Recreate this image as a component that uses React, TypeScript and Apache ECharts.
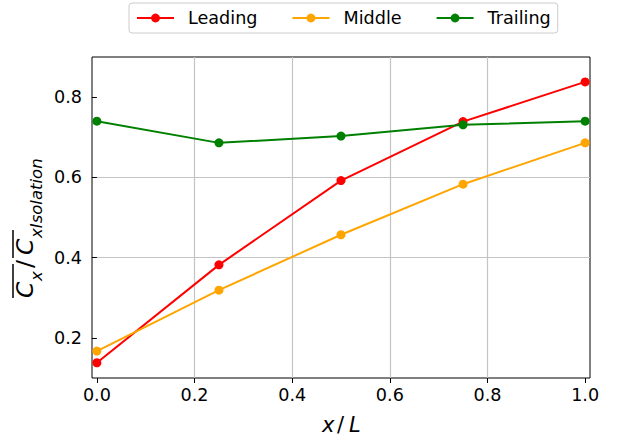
import React, { useEffect, useRef } from "react";
import * as echarts from "echarts";

const seriesNames = ["Leading", "Middle", "Trailing"];
const seriesColors = ["#ff0000", "#ffa500", "#008000"];
const xValues = [0, 0.25, 0.5, 0.75, 1.0];
const leading = [0.138, 0.382, 0.592, 0.739, 0.838];
const middle = [0.167, 0.319, 0.457, 0.583, 0.686];
const trailing = [0.74, 0.686, 0.703, 0.731, 0.74];
const xTicks = [0, 0.2, 0.4, 0.6, 0.8, 1.0];
const yTicks = [0.2, 0.4, 0.6, 0.8];

const FONT = "DejaVu Sans";

export default function App() {
  const ref = useRef<HTMLDivElement>(null);
  useEffect(() => {
    if (!ref.current) return;
    const chart = echarts.init(ref.current, null, { renderer: "svg" });
    const values = [leading, middle, trailing];
    const series = values.map((vals, i) => ({
      name: seriesNames[i],
      type: "line",
      data: xValues.map((x, j) => [x, vals[j]]),
      symbol: "circle",
      symbolSize: 9,
      showSymbol: true,
      color: seriesColors[i],
      itemStyle: { color: seriesColors[i] },
      lineStyle: { color: seriesColors[i], width: 2 },
      emphasis: { disabled: true },
    }));
    const mainFont = (style: string, size: number) => `${style} ${size}px "${FONT}"`;
    chart.setOption({
      animation: false,
      backgroundColor: "#ffffff",
      textStyle: { fontFamily: FONT },
      legend: {
        data: seriesNames,
        left: 129,
        top: 3,
        padding: [6, 7, 6, 7],
        itemGap: 34,
        itemWidth: 37,
        itemHeight: 11,
        borderColor: "#cccccc",
        borderWidth: 1,
        borderRadius: 3,
        textStyle: { fontSize: 17.6, color: "#000", fontFamily: FONT, padding: [0, 0, 0, 9] },
      },
      grid: {
        left: 92,
        right: 40,
        top: 57,
        bottom: 64,
        show: true,
        borderColor: "#000",
        borderWidth: 1,
        backgroundColor: "transparent",
      },
      xAxis: {
        type: "value",
        min: -0.01,
        max: 1.01,
        axisLine: { show: false },
        axisTick: { show: true, length: 5, lineStyle: { color: "#000", width: 1 }, customValues: xTicks },
        axisLabel: {
          customValues: xTicks,
          formatter: (v: number) => v.toFixed(1),
          fontSize: 17.6,
          color: "#000",
          fontFamily: FONT,
          margin: 8,
        },
        splitLine: { show: true, showMinLine: false, showMaxLine: false, lineStyle: { color: "#c4c4c4", width: 1.2 } },
      },
      yAxis: {
        type: "value",
        min: 0.1,
        max: 0.9,
        axisLine: { show: false },
        axisTick: { show: true, length: 5, lineStyle: { color: "#000", width: 1 }, customValues: yTicks },
        axisLabel: {
          customValues: yTicks,
          formatter: (v: number) => v.toFixed(1),
          fontSize: 17.6,
          color: "#000",
          fontFamily: FONT,
          margin: 10,
        },
        splitLine: { show: true, showMinLine: false, showMaxLine: false, lineStyle: { color: "#c4c4c4", width: 1.2 } },
      },
      graphic: [
        {
          type: "group",
          x: 33,
          y: 298,
          rotation: Math.PI / 2,
          children: [
            { type: "text", x: 0, y: -8.1, style: { text: "C", font: mainFont("italic", 23.5), fill: "#000", align: "left", verticalAlign: "middle" } },
            { type: "text", x: 17, y: 3.3, style: { text: "x", font: mainFont("italic", 16.5), fill: "#000", align: "left", verticalAlign: "middle" } },
            { type: "text", x: 30, y: -8.1, style: { text: "/", font: mainFont("normal", 23.5), fill: "#000", align: "left", verticalAlign: "middle" } },
            { type: "text", x: 43, y: -8.1, style: { text: "C", font: mainFont("italic", 23.5), fill: "#000", align: "left", verticalAlign: "middle" } },
            { type: "text", x: 60, y: 3.3, style: { text: "xIsolation", font: mainFont("italic", 16.5), fill: "#000", align: "left", verticalAlign: "middle" } },
            { type: "line", shape: { x1: 0, y1: -20, x2: 34, y2: -20 }, style: { stroke: "#000", lineWidth: 1.5 } },
            { type: "line", shape: { x1: 40, y1: -20, x2: 68, y2: -20 }, style: { stroke: "#000", lineWidth: 1.5 } },
          ],
        },
        { type: "text", x: 322, y: 424.7, style: { text: "x", font: mainFont("italic", 21), fill: "#000", align: "left", verticalAlign: "middle" } },
        { type: "text", x: 337, y: 424.7, style: { text: "/", font: mainFont("normal", 21), fill: "#000", align: "left", verticalAlign: "middle" } },
        { type: "text", x: 349, y: 424.7, style: { text: "L", font: mainFont("italic", 21), fill: "#000", align: "left", verticalAlign: "middle" } },
      ],
      series,
    });
    return () => chart.dispose();
  }, []);
  return <div ref={ref} style={{ width: 630, height: 442, position: "absolute", left: 0, top: 0 }} />;
}
